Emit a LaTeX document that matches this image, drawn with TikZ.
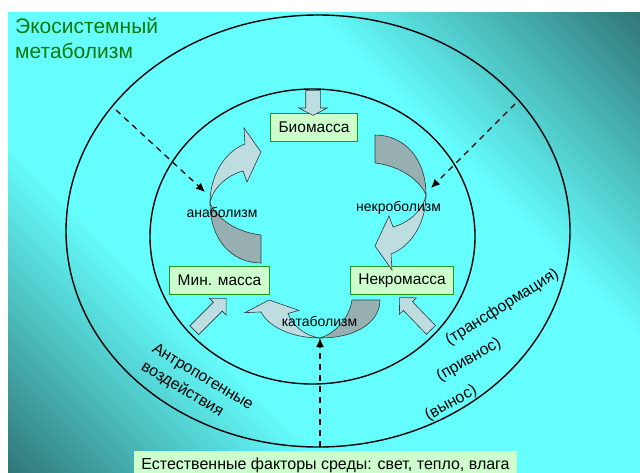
\documentclass[tikz,border=0pt]{standalone}
\usepackage{fontspec}
\setmainfont{Liberation Sans}
\usetikzlibrary{arrows.meta, positioning, shapes.arrows}
\definecolor{ecocyan}{HTML}{66FFFF}
\definecolor{ecoteal}{HTML}{317878}
\definecolor{ecogreen}{HTML}{0B770B}
\definecolor{massfill}{HTML}{CCFFCC}
\definecolor{massline}{HTML}{1F9A1F}
\definecolor{flowlight}{HTML}{BDDDE0}
\definecolor{flowdark}{HTML}{97AFB1}
\definecolor{flowline}{HTML}{2F3A3C}
\pgfdeclarehorizontalshading{ecoback}{100bp}{color(0bp)=(ecoteal); color(14.6bp)=(ecoteal);
  color(36bp)=(ecocyan); color(64bp)=(ecocyan); color(85.4bp)=(ecoteal); color(100bp)=(ecoteal)}

\begin{document}
\begin{tikzpicture}[x=1pt, y=-1pt,
  mass/.style={draw=massline, line width=1.5pt, fill=massfill, inner xsep=8pt,
    minimum height=28pt, font=\fontsize{15.5}{18}\selectfont},
  ring/.style={draw=black, line width=1.4pt},
  feed/.style={single arrow, draw=flowline, line width=0.6pt, fill=flowlight,
    inner sep=6pt, single arrow head extend=5.5pt, minimum height=45pt},
  cue/.style={line width=1.3pt, dash pattern=on 6pt off 5pt,
    -{Latex[length=9pt, width=8pt]}},
  flowlabel/.style={font=\fontsize{14}{16}\selectfont},
  sidelabel/.style={font=\fontsize{16}{21}\selectfont, align=left}]
  \clip (0,0) rectangle (640,472);
  \fill[white] (0,0) rectangle (640,472);
  \shade[shading=ecoback, shading angle=45] (8,12) rectangle (640,472);

  % the two rings
  \draw[ring] (318,231) ellipse [x radius=252, y radius=216];
  \draw[ring] (312.5,236.5) ellipse [x radius=162.5, y radius=147.5];

  \node[font=\fontsize{21}{25}\selectfont, text=ecogreen, align=left,
        anchor=north west, inner sep=0pt] (title) at (15,18) {Экосистемный\\метаболизм};

  % pools
  \node[mass] (bio) at (314,127.5) {Биомасса};
  \node[mass] (min) at (219.5,280.5) {Мин. масса};
  \node[mass] (necro) at (402,280.5) {Некромасса};
  \node[fill=massfill, font=\fontsize{16}{19}\selectfont, anchor=north,
        inner xsep=7.5pt, inner ysep=6pt, text height=12pt, text depth=6pt]
        (factors) at (325.5,451) {Естественные факторы среды: свет, тепло, влага};

  % inputs through the inner ring
  \node[feed, minimum height=25pt, inner ysep=7pt, single arrow head extend=7pt,
        single arrow tip angle=125, rotate=-90] (biofeed) at (313,101) {};
  \node[feed, rotate=45] (minfeed) at (208,316.5) {};
  \node[feed, rotate=134] (necrofeed) at (417.5,316) {};

  % curved flows: anabolism, necrobolism, catabolism
  \foreach \ox/\oy/\turn/\bend in {261/199/0/1, 375/199/180/1, 316/300/90/0.745}{
    \begin{scope}[shift={(\ox,\oy)}, rotate=\turn, xscale=\bend]
      \filldraw[fill=flowdark, draw=flowline, line width=0.6pt]
        (0,36) -- (0,64) .. controls (-29,64) and (-51,41) .. (-51,4)
        .. controls (-46,17) and (-27,33) .. (0,36) -- cycle;
      \filldraw[fill=flowlight, draw=flowline, line width=0.6pt]
        (-51,4) .. controls (-51,-25) and (-35,-48) .. (-16,-55) -- (-17,-71)
        -- (0,-47) -- (-14,-17) -- (-18,-28)
        .. controls (-33,-24) and (-48,-12) .. (-51,4) -- cycle;
    \end{scope}
  }
  \node[flowlabel] (anab) at (222,212) {анаболизм};
  \node[flowlabel] (necrob) at (398.5,208) {некроболизм};
  \node[flowlabel] (catab) at (319.5,321.5) {катаболизм};

  % outside influences
  \coordinate (leftcue) at (116,110);
  \coordinate (anabin) at (205,192);
  \coordinate (rightcue) at (515,104);
  \coordinate (necrobin) at (431,188);
  \coordinate (catabin) at (320,338);
  \draw[cue] (leftcue) -- (anabin);
  \draw[cue] (rightcue) -- (necrobin);
  \draw[cue, shorten <=4pt] (factors.north -| catabin) -- (catabin);

  \node[sidelabel, rotate=-31] (anthro) at (197,386.5) {Антропогенные\\воздействия};
  \node[sidelabel, rotate=32] (transf) at (502.3,307.3) {(трансформация)};
  \node[sidelabel, rotate=30] (import) at (469,360) {(привнос)};
  \node[sidelabel, rotate=29] (export) at (451,403.3) {(вынос)};
\end{tikzpicture}
\end{document}
